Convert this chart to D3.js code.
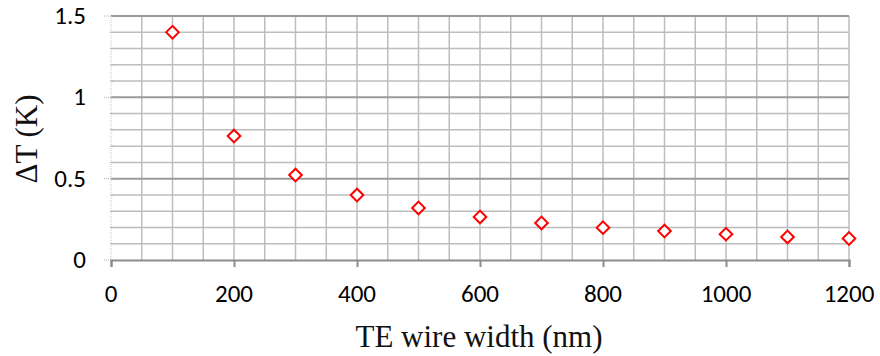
<!DOCTYPE html>
<html>
<head>
<meta charset="utf-8">
<script src="https://cdn.jsdelivr.net/npm/d3@7"></script>
<style>
  html, body { margin: 0; padding: 0; background: #fff; }
  svg { display: block; }
</style>
</head>
<body>
<svg id="chart" width="880" height="356"></svg>
<script>
// Temperature difference versus thermoelectric wire width
const widths = [100, 200, 300, 400, 500, 600, 700, 800, 900, 1000, 1100, 1200];
const deltaT = [1.40, 0.762, 0.522, 0.399, 0.320, 0.265, 0.228, 0.199, 0.178, 0.159, 0.142, 0.132];
const xTicks = [0, 200, 400, 600, 800, 1000, 1200];
const yTicks = [0, 0.5, 1, 1.5];
const yTickLabels = ["0", "0.5", "1", "1.5"];

const svg = d3.select("#chart");
const plotLeft = 111, plotRight = 849, plotTop = 16, plotBottom = 260;

const x = d3.scaleLinear().domain([0, 1200]).range([plotLeft, plotRight]);
const y = d3.scaleLinear().domain([0, 1.5]).range([plotBottom, plotTop]);
const isMajorY = d => Math.abs(d * 2 - Math.round(d * 2)) < 1e-6;

const grid = svg.append("g");
// minor vertical grid every 50 nm
grid.selectAll("line.vx").data(d3.range(50, 1201, 50)).join("line")
  .attr("x1", d => x(d)).attr("x2", d => x(d))
  .attr("y1", y(1.5)).attr("y2", y(0))
  .attr("stroke", "#bdbdbd").attr("stroke-width", 1.5);
// horizontal grid every 0.1 K, darker at each 0.5 K
grid.selectAll("line.hy").data(d3.range(1, 16).map(i => i / 10)).join("line")
  .attr("x1", x(0)).attr("x2", x(1200))
  .attr("y1", d => y(d)).attr("y2", d => y(d))
  .attr("stroke", d => isMajorY(d) ? "#9a9a9a" : "#bdbdbd")
  .attr("stroke-width", d => isMajorY(d) ? 2 : 1.5);

// left axis: dotted line with small dotted ticks
svg.append("line")
  .attr("x1", x(0)).attr("x2", x(0)).attr("y1", y(1.5)).attr("y2", y(0))
  .attr("stroke", "#c8c8c8").attr("stroke-width", 1).attr("stroke-dasharray", "1,1");
svg.selectAll("line.ytk").data(d3.range(0, 16).map(i => i / 10)).join("line")
  .attr("x1", d => isMajorY(d) ? x(0) - 7 : x(0) - 1)
  .attr("x2", x(0) + 3)
  .attr("y1", d => y(d)).attr("y2", d => y(d))
  .attr("stroke", "#b0b0b0").attr("stroke-width", 1).attr("stroke-dasharray", "1,1");

// bottom axis built from the x scale
const xAxis = d3.axisBottom(x).tickValues(xTicks).tickSize(7).tickFormat("");
const gx = svg.append("g").attr("transform", `translate(0,${plotBottom})`).call(xAxis);
gx.select(".domain").attr("stroke", "#8c8c8c").attr("stroke-width", 2);
gx.selectAll(".tick line").attr("stroke", "#8c8c8c").attr("stroke-width", 2);

const tickFont = "Carlito, Calibri, 'Open Sans', sans-serif";
svg.selectAll("text.xt").data(xTicks).join("text")
  .attr("x", d => x(d)).attr("y", 302)
  .attr("text-anchor", "middle")
  .attr("font-family", tickFont)
  .attr("font-size", 25).attr("fill", "#000")
  .text(d => d);

svg.selectAll("text.yt").data(yTicks).join("text")
  .attr("x", 86).attr("y", d => y(d) + 8)
  .attr("text-anchor", "end")
  .attr("font-family", tickFont)
  .attr("font-size", 25).attr("fill", "#000")
  .text((d, i) => yTickLabels[i]);

// axis titles
const titleFont = "'Liberation Serif', 'Times New Roman', serif";
svg.append("text")
  .attr("x", 479).attr("y", 347).attr("text-anchor", "middle")
  .attr("font-family", titleFont)
  .attr("font-size", 31).attr("fill", "#111")
  .text("TE wire width (nm)");
svg.append("text")
  .attr("transform", "translate(37,139) rotate(-90)")
  .attr("text-anchor", "middle")
  .attr("font-family", titleFont)
  .attr("font-size", 31).attr("fill", "#111")
  .text("ΔT (K)");

// diamond markers
const diamond = d3.symbol().type(d3.symbolSquare).size(80);
svg.selectAll("path.pt").data(widths).join("path")
  .attr("transform", (d, i) => `translate(${x(d)},${y(deltaT[i])}) rotate(45)`)
  .attr("d", diamond())
  .attr("fill", "#fff").attr("stroke", "#ff0000").attr("stroke-width", 2);
</script>
</body>
</html>
